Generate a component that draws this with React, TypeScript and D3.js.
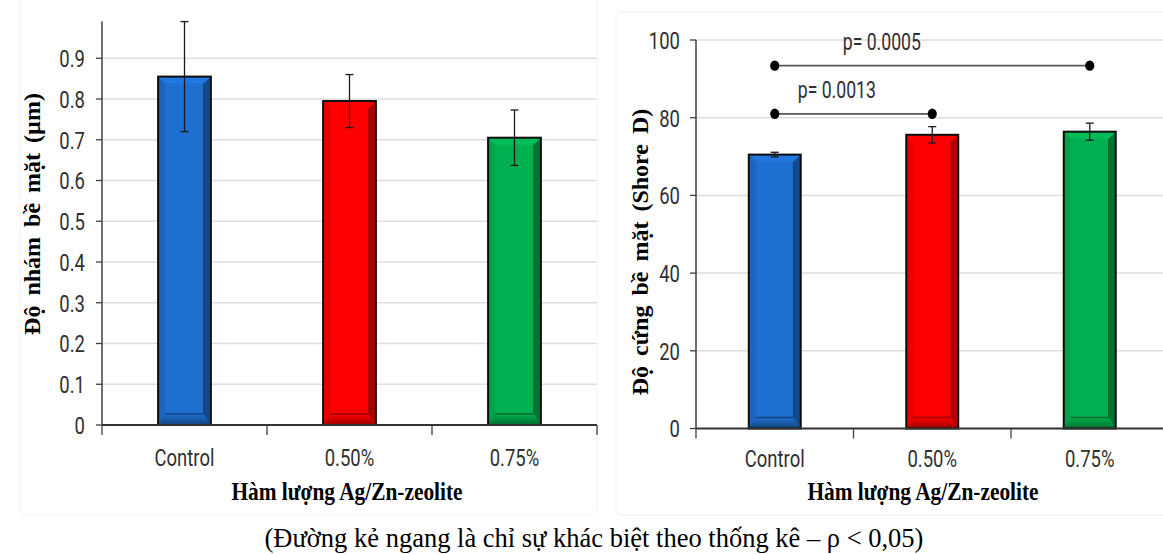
import React from "react";
import * as d3 from "d3";

// Groups on the x axis
const categories = ["Control", "0.50%", "0.75%"];

// Surface roughness (µm): means and standard deviations
const roughnessMeans = [0.855, 0.795, 0.705];
const roughnessErrors = [0.135, 0.065, 0.068];
const roughnessTicks = [0, 0.1, 0.2, 0.3, 0.4, 0.5, 0.6, 0.7, 0.8, 0.9];

// Surface hardness (Shore D): means and standard deviations
const hardnessMeans = [70.5, 75.6, 76.4];
const hardnessErrors = [0.6, 2.1, 2.2];
const hardnessTicks = [0, 20, 40, 60, 80, 100];

// Pairwise significance brackets on the hardness chart
const comparisonFrom = [0, 0];
const comparisonTo = [1, 2];
const comparisonLevel = [81, 93.4];
const comparisonLabels = ["p= 0.0013", "p= 0.0005"];

const barColors = ["#1f6fd0", "#ff0000", "#00b050"];

const W = 1163;
const H = 554;

const sansFont = "'Roboto', 'Liberation Sans', sans-serif";
const serifFont = "'Liberation Serif', 'Times New Roman', serif";

// Condensed sans label (Calibri-like proportions)
function NarrowText({
  x, y, anchor = "start", size = 22, children, dy,
}: { x: number; y: number; anchor?: string; size?: number; children: React.ReactNode; dy?: string }) {
  return (
    <text
      transform={`translate(${x},${y}) scale(0.84,1.12)`}
      dy={dy}
      textAnchor={anchor}
      fontFamily={sansFont}
      fontSize={size}
      fill="#303030"
    >
      {children}
    </text>
  );
}

type BarProps = { x: number; y: number; w: number; h: number; color: string; id: string };

function BevelBar({ x, y, w, h, color, id }: BarProps) {
  const b = 7;
  const c = d3.color(color)!;
  const dark = c.darker(1.4).formatHex();
  const mid = c.darker(0.5).formatHex();
  const light = c.brighter(0.35).formatHex();
  const pts = (arr: number[][]) => arr.map((p) => p.join(",")).join(" ");
  return (
    <g>
      <defs>
        <linearGradient id={`bot-${id}`} x1="0" y1="0" x2="0" y2="1">
          <stop offset="0" stopColor={color} />
          <stop offset="1" stopColor={dark} />
        </linearGradient>
      </defs>
      <rect x={x} y={y} width={w} height={h} fill={color} />
      {/* top bevel */}
      <polygon points={pts([[x, y], [x + w, y], [x + w - b, y + b], [x + b, y + b]])} fill={light} opacity={0.6} />
      {/* left bevel */}
      <polygon points={pts([[x, y], [x + b, y + b], [x + b, y + h - b], [x, y + h]])} fill={mid} opacity={0.55} />
      {/* right bevel */}
      <polygon points={pts([[x + w, y], [x + w, y + h], [x + w - b, y + h - b], [x + w - b, y + b]])} fill={dark} opacity={0.85} />
      {/* bottom bevel */}
      <polygon points={pts([[x, y + h], [x + w, y + h], [x + w - b, y + h - b - 4], [x + b, y + h - b - 4]])} fill={`url(#bot-${id})`} />
      <line x1={x + b} x2={x + w - b} y1={y + h - b - 4} y2={y + h - b - 4} stroke={dark} strokeWidth={1.5} />
      <line x1={x + w - b} x2={x + w - b} y1={y + b} y2={y + h - b - 4} stroke={dark} strokeWidth={1.5} />
      <rect x={x} y={y} width={w} height={h} fill="none" stroke="#0d0d0d" strokeWidth={2} />
    </g>
  );
}

function ErrorBar({ cx, top, bottom }: { cx: number; top: number; bottom: number }) {
  const cap = 4;
  return (
    <g stroke="#1a1a1a" strokeWidth={1.3}>
      <line x1={cx} x2={cx} y1={top} y2={bottom} />
      <line x1={cx - cap} x2={cx + cap} y1={top} y2={top} />
      <line x1={cx - cap} x2={cx + cap} y1={bottom} y2={bottom} />
    </g>
  );
}

function XTitle({ cx }: { cx: number }) {
  return (
    <text
      transform={`translate(${cx},500) scale(0.855,1)`}
      textAnchor="middle"
      fontFamily={serifFont}
      fontWeight="bold"
      fontSize={25}
      fill="#000"
    >
      Hàm lượng Ag/Zn-zeolite
    </text>
  );
}

function YTitle({ x, cy, spacing, children }: { x: number; cy: number; spacing: number; children: React.ReactNode }) {
  return (
    <text
      transform={`translate(${x},${cy}) rotate(-90)`}
      textAnchor="middle"
      fontFamily={serifFont}
      fontWeight="bold"
      fontSize={24}
      wordSpacing={spacing}
      fill="#000"
    >
      {children}
    </text>
  );
}

export default function App() {
  // Left panel: roughness
  const xL = d3.scaleBand<string>().domain(categories).range([102, 597]);
  const yL = d3.scaleLinear().domain([0, 1]).range([425, 17.5]);
  const bwL = xL.bandwidth() * 0.32;

  // Right panel: hardness
  const xR = d3.scaleBand<string>().domain(categories).range([696, 1168.5]);
  const yR = d3.scaleLinear().domain([0, 100]).range([428.5, 40]);
  const bwR = xR.bandwidth() * 0.33;

  const centerL = (c: string) => (xL(c) as number) + xL.bandwidth() / 2;
  const centerR = (c: string) => (xR(c) as number) + xR.bandwidth() / 2;

  const boundariesL = [0, 1, 2, 3].map((i) => 102 + i * xL.step());
  const boundariesR = [0, 1, 2, 3].map((i) => 696 + i * xR.step());

  return (
    <svg width={W} height={H} style={{ position: "absolute", left: 0, top: 0, background: "#fff" }}>
      <rect width={W} height={H} fill="#fff" />

      {/* faint chart-area borders */}
      <rect x={20} y={-6} width={577} height={521} rx={6} fill="none" stroke="#f3f3f3" strokeWidth={1} />
      <rect x={616} y={12} width={560} height={503} rx={6} fill="none" stroke="#f1f1f1" strokeWidth={1} />

      {/* ---------- Left chart: roughness ---------- */}
      <g>
        {roughnessTicks.filter((t) => t > 0).map((t) => (
          <line key={t} x1={102} x2={597} y1={yL(t)} y2={yL(t)} stroke="#dedede" strokeWidth={1.5} />
        ))}
        {roughnessTicks.map((t) => (
          <g key={t}>
            <line x1={96} x2={102} y1={yL(t)} y2={yL(t)} stroke="#404040" strokeWidth={1.3} />
            <NarrowText x={85} y={yL(t)} dy="0.36em" anchor="end">
              {t === 0 ? "0" : d3.format(".1f")(t)}
            </NarrowText>
          </g>
        ))}
        {categories.map((c, i) => {
          const cx = centerL(c);
          const top = yL(roughnessMeans[i]);
          return (
            <g key={c}>
              <BevelBar id={`l${i}`} x={cx - bwL / 2} y={top} w={bwL} h={yL(0) - top} color={barColors[i]} />
              <ErrorBar cx={cx} top={yL(roughnessMeans[i] + roughnessErrors[i])} bottom={yL(roughnessMeans[i] - roughnessErrors[i])} />
              <NarrowText x={cx} y={466} anchor="middle">{c}</NarrowText>
            </g>
          );
        })}
        <line x1={102} x2={102} y1={yL(0)} y2={yL(0.99)} stroke="#404040" strokeWidth={1.5} />
        <line x1={102} x2={597} y1={yL(0)} y2={yL(0)} stroke="#333" strokeWidth={2} />
        {boundariesL.map((bx) => (
          <line key={bx} x1={bx} x2={bx} y1={yL(0)} y2={yL(0) + 10} stroke="#404040" strokeWidth={1.3} />
        ))}
        <XTitle cx={347} />
        <YTitle x={40} cy={214} spacing={4}>Độ nhám bề mặt (µm)</YTitle>
      </g>

      {/* ---------- Right chart: hardness ---------- */}
      <g>
        {hardnessTicks.filter((t) => t > 0).map((t) => (
          <line key={t} x1={696} x2={W} y1={yR(t)} y2={yR(t)} stroke="#dedede" strokeWidth={1.5} />
        ))}
        {hardnessTicks.map((t) => (
          <g key={t}>
            <line x1={690} x2={696} y1={yR(t)} y2={yR(t)} stroke="#404040" strokeWidth={1.3} />
            <NarrowText x={680} y={yR(t)} dy="0.36em" anchor="end">{t}</NarrowText>
          </g>
        ))}
        {categories.map((c, i) => {
          const cx = centerR(c);
          const top = yR(hardnessMeans[i]);
          return (
            <g key={c}>
              <BevelBar id={`r${i}`} x={cx - bwR / 2} y={top} w={bwR} h={yR(0) - top} color={barColors[i]} />
              <ErrorBar cx={cx} top={yR(hardnessMeans[i] + hardnessErrors[i])} bottom={yR(hardnessMeans[i] - hardnessErrors[i])} />
              <NarrowText x={cx} y={467} anchor="middle">{c}</NarrowText>
            </g>
          );
        })}
        <line x1={696} x2={696} y1={yR(0)} y2={yR(100)} stroke="#404040" strokeWidth={1.5} />
        <line x1={696} x2={W} y1={yR(0)} y2={yR(0)} stroke="#333" strokeWidth={2} />
        {boundariesR.map((bx) => (
          <line key={bx} x1={bx} x2={bx} y1={yR(0)} y2={yR(0) + 10} stroke="#404040" strokeWidth={1.3} />
        ))}

        {/* significance brackets */}
        {comparisonLabels.map((label, k) => {
          const x1 = centerR(categories[comparisonFrom[k]]);
          const x2 = centerR(categories[comparisonTo[k]]);
          const y = yR(comparisonLevel[k]);
          return (
            <g key={label}>
              <line x1={x1} x2={x2} y1={y} y2={y} stroke="#595959" strokeWidth={1.8} />
              <ellipse cx={x1} cy={y} rx={4.6} ry={5.2} fill="#000" />
              <ellipse cx={x2} cy={y} rx={4.6} ry={5.2} fill="#000" />
              <NarrowText x={x1 + (k === 0 ? 23 : 68)} y={y - 16} size={21}>{label}</NarrowText>
            </g>
          );
        })}

        <XTitle cx={923} />
        <YTitle x={648} cy={252} spacing={4}>Độ cứng bề mặt (Shore D)</YTitle>
      </g>

      {/* caption */}
      <text x={594} y={547} textAnchor="middle" fontFamily={serifFont} fontSize={26.5} fill="#000">
        (Đường kẻ ngang là chỉ sự khác biệt theo thống kê – ρ &lt; 0,05)
      </text>
    </svg>
  );
}
